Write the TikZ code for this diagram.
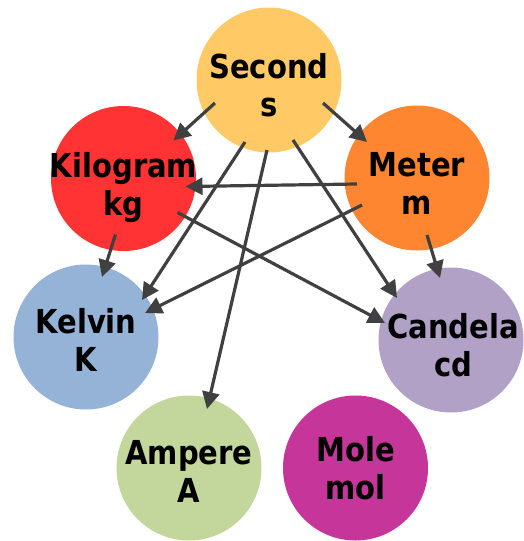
\documentclass[tikz,border=0pt]{standalone}
\usepackage{fontspec}
\setmainfont{DejaVu Sans}
\newfontfamily\unitfont[FakeStretch=0.88]{DejaVu Sans}
\usetikzlibrary{arrows.meta,calc}
\definecolor{cSec}{HTML}{FFCA66}
\definecolor{cKg}{HTML}{FF3333}
\definecolor{cMet}{HTML}{FF8630}
\definecolor{cKel}{HTML}{95B3D7}
\definecolor{cCd}{HTML}{B2A1C7}
\definecolor{cAmp}{HTML}{C3D69B}
\definecolor{cMol}{HTML}{C6359A}
\definecolor{cArr}{HTML}{404040}
\tikzset{
  unit/.style={circle, minimum size=145pt, inner sep=0pt, draw=none},
  unitlabel/.style={inner sep=0pt, text depth=0pt, align=center, text=black,
    font=\unitfont\bfseries\fontsize{33}{38}\selectfont},
  link/.style={draw=cArr, line width=3.2pt,
    -{Triangle[length=17pt,width=17pt]}}
}
\begin{document}
\begin{tikzpicture}[x=1pt,y=-1pt]
\useasboundingbox (0,0) rectangle (523,541);
% the seven base units
\node[unit, fill=cSec] (sec) at (269,80)    {};
\node[unit, fill=cKg]  (kg)  at (123.5,178.5) {};
\node[unit, fill=cMet] (met) at (417,178)   {};
\node[unit, fill=cKel] (kel) at (86,337)    {};
\node[unit, fill=cCd]  (cd)  at (451,340)   {};
\node[unit, fill=cAmp] (amp) at (189,468)   {};
\node[unit, fill=cMol] (mol) at (355.5,468) {};
% unit names and symbols
\node[unitlabel] (secT) at ($(sec)+(0,5)$) {Second\\s};
\node[unitlabel] (kgT)  at ($(kg)+(0,5)$)  {Kilogram\\kg};
\node[unitlabel] (metT) at ($(met)+(0,5)$) {Meter\\m};
\node[unitlabel] (kelT) at ($(kel)+(0,3)$) {Kelvin\\K};
\node[unitlabel] (cdT)  at ($(cd)+(2,5)$)  {Candela\\cd};
\node[unitlabel] (ampT) at ($(amp)+(0,3)$) {Ampere\\A};
\node[unitlabel] (molT) at ($(mol)+(0,0)$) {Mole\\mol};
% dependencies of the unit definitions
\draw[link] ($(sec)+(-54,23)$) -- ($(kg)+(50,-38)$);
\draw[link] ($(sec)+(54,23)$)  -- ($(met)+(-50,-36)$);
\draw[link] ($(sec)+(-24,62)$) -- ($(kel)+(56,-37)$);
\draw[link] ($(sec)+(-2,70)$)  -- ($(amp)+(18,-59)$);
\draw[link] ($(sec)+(24,60)$)  -- ($(cd)+(-54,-42)$);
\draw[link] ($(kg)+(-8,56)$)   -- ($(kel)+(16,-60)$);
\draw[link] ($(kg)+(54,34)$)   -- ($(cd)+(-66,-17)$);
\draw[link] ($(met)+(-60,6)$)  -- ($(kg)+(62,8)$);
\draw[link] ($(met)+(-55,27)$) -- ($(kel)+(59,-24)$);
\draw[link] ($(met)+(10,57)$)  -- ($(cd)+(-11,-62)$);
\end{tikzpicture}
\end{document}
